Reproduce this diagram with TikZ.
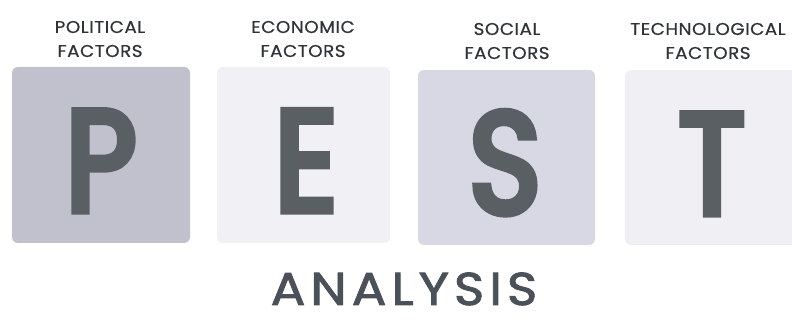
\documentclass[tikz,border=0pt]{standalone}
\usepackage{fontspec}
\setmainfont{Poppins}
\newfontfamily\bigfont[FakeStretch=0.85,FakeBold=5]{Poppins}
\newfontfamily\titlefont[FakeStretch=1.12,FakeBold=2,LetterSpace=11]{Poppins}
\newfontfamily\labelfont[FakeStretch=1.08,FakeBold=0.4,LetterSpace=3]{Poppins}
\definecolor{boxP}{HTML}{C0C1CC}
\definecolor{boxE}{HTML}{F1F1F5}
\definecolor{boxS}{HTML}{D8D8E4}
\definecolor{boxT}{HTML}{F0F0F4}
\definecolor{letter}{HTML}{5A5F64}
\definecolor{labelc}{HTML}{2E3338}
\definecolor{titlec}{HTML}{4B5158}
\begin{document}
\begin{tikzpicture}[x=1pt,y=-1pt,
  tile/.style={rounded corners=6pt},
  bigletter/.style={font=\bigfont\fontsize{144}{144}\selectfont, text=letter, inner sep=0pt, anchor=base},
  factor/.style={font=\labelfont\fontsize{17}{24}\selectfont, text=labelc, align=center, inner sep=0pt},
  titletext/.style={font=\titlefont\fontsize{46}{46}\selectfont, text=titlec, inner sep=0pt, anchor=base}]
\useasboundingbox (0,0) rectangle (792,328);
\fill[white] (0,0) rectangle (792,328);
% tiles
\fill[boxP,tile] (12,67) rectangle (190,243);
\fill[boxE,tile] (217,67) rectangle (390,243);
\fill[boxS,tile] (418,70) rectangle (595,245);
\fill[boxT,tile] (625,70) rectangle (800,245);
% big letters
\node[bigletter] (P) at (101,211) {P};
\node[bigletter] (E) at (306,211) {E};
\node[bigletter] (S) at (505,213) {S};
\node[bigletter] (T) at (712,214) {T};
% labels
\node[factor] (lp) at (100,39) {POLITICAL\\FACTORS};
\node[factor] (le) at (303,39) {ECONOMIC\\FACTORS};
\node[factor] (ls) at (507,41) {SOCIAL\\FACTORS};
\node[factor] (lt) at (708,41) {TECHNOLOGICAL\\FACTORS};
% title
\node[titletext] (title) at (404,305) {ANALYSIS};
\end{tikzpicture}
\end{document}
